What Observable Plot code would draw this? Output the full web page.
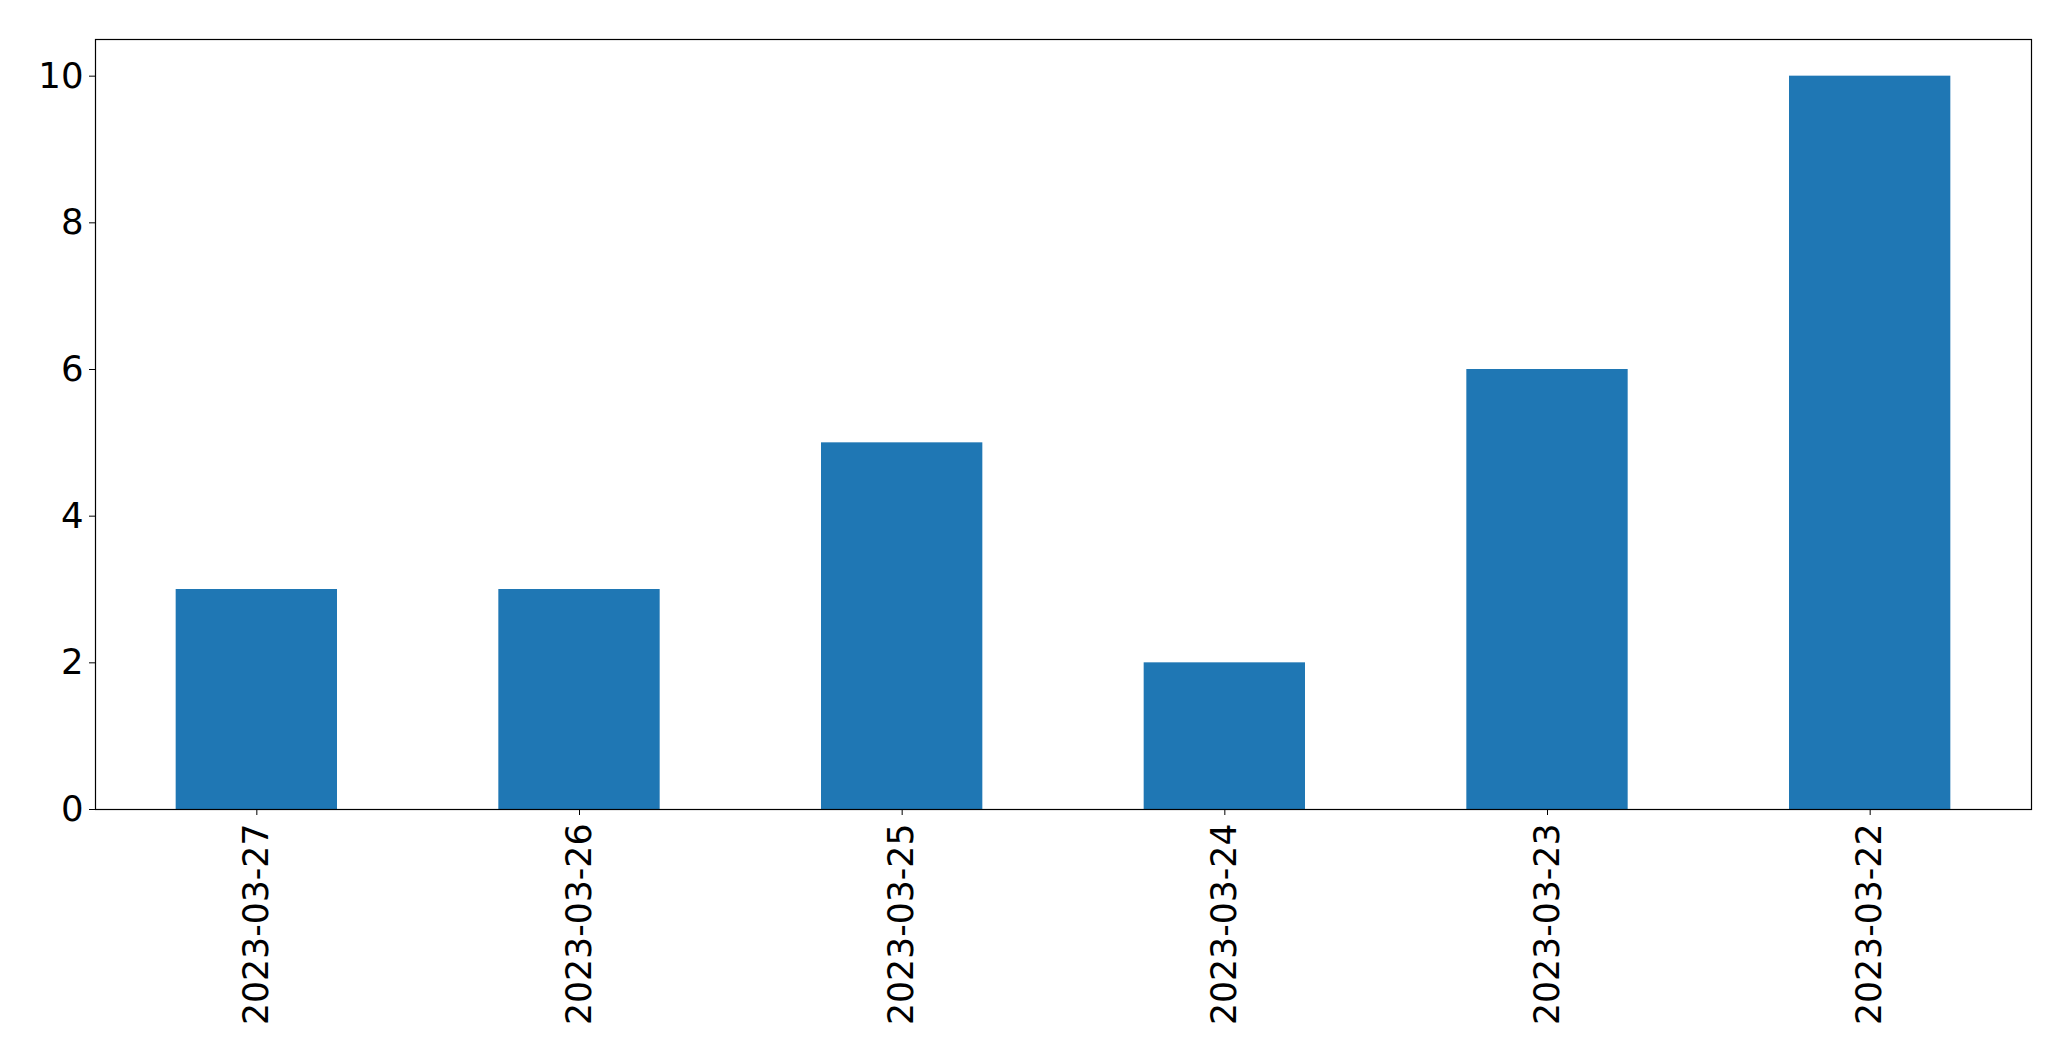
<!DOCTYPE html>
<html>
<head>
<meta charset="utf-8">
<script src="https://cdn.jsdelivr.net/npm/d3@7"></script>
<script src="https://cdn.jsdelivr.net/npm/@observablehq/plot@0.6"></script>
<style>
  html, body { margin: 0; padding: 0; background: #fff; }
  #chart svg { display: block; }
</style>
</head>
<body>
<div id="chart"></div>
<script>
const dates = ["2023-03-27", "2023-03-26", "2023-03-25", "2023-03-24", "2023-03-23", "2023-03-22"];
const counts = [3, 3, 5, 2, 6, 10];
const yTicks = [0, 2, 4, 6, 8, 10];

const data = dates.map((d, i) => ({date: d, count: counts[i]}));

const chart = Plot.plot({
  width: 2071,
  height: 1061,
  marginLeft: 95,
  marginRight: 40,
  marginTop: 39,
  marginBottom: 252,
  style: {fontFamily: "DejaVu Sans", background: "#fff", color: "#000"},
  x: {type: "band", domain: dates, paddingInner: 0.5, paddingOuter: 0.25, round: false},
  y: {domain: [0, 10.5]},
  marks: [
    Plot.barY(data, {x: "date", y: "count", fill: "#1f77b4"}),
    Plot.frame({stroke: "#000", strokeWidth: 1.2}),
    Plot.axisY({ticks: yTicks, tickSize: 6, tickPadding: 6, fontSize: 35.5, label: null, stroke: "#000"}),
    Plot.axisX({tickSize: 6, tickPadding: 8, tickRotate: -90, fontSize: 34.7, label: null, stroke: "#000"})
  ]
});
document.getElementById("chart").appendChild(chart);
</script>
</body>
</html>
